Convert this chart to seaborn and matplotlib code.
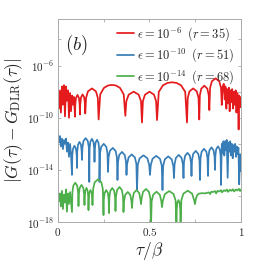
import matplotlib
matplotlib.use("Agg")
import matplotlib.pyplot as plt
import numpy as np
import pandas as pd
import seaborn as sns

# log10 |G - G_DLR|, tau in units of beta
red_tau = [
    0.000, 0.005, 0.011, 0.016, 0.022, 0.027, 0.033, 0.038, 0.044, 0.049,
    0.055, 0.060, 0.066, 0.071, 0.077, 0.082, 0.087,
    0.093, 0.0946, 0.0984, 0.1065, 0.1146, 0.1184,
    0.120, 0.1217, 0.1258, 0.1345, 0.1432, 0.1473,
    0.149, 0.1534, 0.1636, 0.1855, 0.2074, 0.2176,
    0.222, 0.2308, 0.2512, 0.2731, 0.295, 0.3169, 0.3388, 0.3592,
    0.368, 0.3735, 0.3862, 0.4135, 0.4408, 0.4535,
    0.459, 0.4639, 0.4754, 0.500, 0.5246, 0.5361,
    0.541, 0.5508, 0.5738, 0.5984, 0.623, 0.6476, 0.6722, 0.6952,
    0.705, 0.709, 0.7184, 0.7385, 0.7586, 0.768,
    0.772, 0.7753, 0.783, 0.7995, 0.816, 0.8237,
    0.827, 0.8311, 0.8406, 0.861, 0.8814, 0.8909,
    0.895, 0.900, 0.906, 0.911, 0.915, 0.920, 0.924, 0.929, 0.934, 0.938,
    0.943, 0.948, 0.952, 0.957, 0.962, 0.966, 0.971, 0.975, 0.980, 0.984,
    0.987, 0.990, 0.995, 1.000,
]
red_log = [
    -8.0, -9.3, -7.9, -9.6, -7.6, -9.0, -7.5, -9.9, -7.6, -8.7,
    -7.9, -10.0, -8.1, -9.5, -8.3, -9.0, -8.4,
    -9.92, -8.98, -8.48, -8.25, -8.48, -8.98,
    -9.75, -8.94, -8.44, -8.21, -8.44, -8.94,
    -9.67, -8.48, -7.98, -7.75, -7.98, -8.48,
    -10.13, -8.21, -7.71, -7.53, -7.48, -7.53, -7.71, -8.21,
    -9.85, -8.73, -8.23, -8.0, -8.23, -8.73,
    -10.36, -8.73, -8.23, -8.0, -8.23, -8.73,
    -10.18, -8.01, -7.51, -7.33, -7.28, -7.33, -7.51, -8.01,
    -10.36, -8.48, -7.98, -7.75, -7.98, -8.48,
    -10.13, -8.27, -7.77, -7.54, -7.77, -8.27,
    -9.41, -7.71, -7.21, -6.98, -7.21, -7.71,
    -9.02, -7.6, -7.4, -8.6, -7.6, -9.3, -7.8, -8.9, -7.7, -9.5,
    -7.9, -8.8, -7.8, -9.3, -8.0, -9.0, -7.9, -9.6, -8.1, -8.8,
    -10.9, -8.3, -9.2, -8.4,
]

blue_tau = [
    0.000, 0.005, 0.011, 0.016, 0.022, 0.027, 0.033, 0.038, 0.044, 0.049,
    0.055, 0.060, 0.066, 0.071,
    0.0765, 0.0781, 0.0820, 0.0902, 0.0983, 0.1022,
    0.1038, 0.1054, 0.1093, 0.1175, 0.1256, 0.1295,
    0.1311, 0.1335, 0.1391, 0.1511, 0.1630, 0.1686,
    0.1710, 0.1727, 0.1767, 0.1853, 0.1938, 0.1978,
    0.1995, 0.2011, 0.2050, 0.2132, 0.2213, 0.2252,
    0.2268, 0.2296, 0.2361, 0.2500, 0.2639, 0.2704,
    0.2732, 0.2763, 0.2836, 0.2992, 0.3147, 0.3220,
    0.3251, 0.3281, 0.3349, 0.3497, 0.3645, 0.3713,
    0.3743, 0.3777, 0.3858, 0.4030, 0.4202, 0.4283,
    0.4317, 0.4360, 0.4459, 0.4672, 0.4885, 0.4984,
    0.5027, 0.5068, 0.5164, 0.5369, 0.5573, 0.5669,
    0.5710, 0.5748, 0.5836, 0.6025, 0.6213, 0.6301,
    0.6339, 0.6370, 0.6443, 0.6599, 0.6754, 0.6827,
    0.6858, 0.6884, 0.6945, 0.7077, 0.7208, 0.7269,
    0.7295, 0.7323, 0.7388, 0.7528, 0.7667, 0.7732,
    0.7760, 0.7786, 0.7847, 0.7979, 0.8110, 0.8171,
    0.8197, 0.8220, 0.8273, 0.8388, 0.8503, 0.8556,
    0.8579, 0.8599, 0.8645, 0.8743, 0.8841, 0.8887,
    0.8907, 0.895, 0.900, 0.904, 0.909, 0.913, 0.918, 0.922, 0.927, 0.932,
    0.937, 0.941, 0.946, 0.950, 0.955, 0.959, 0.964, 0.968, 0.973, 0.977,
    0.982, 0.986, 0.990, 0.995, 1.000,
]
blue_log = [
    -11.3, -11.9, -11.4, -12.2, -11.6, -12.4, -11.7, -12.0, -11.6, -12.6,
    -11.9, -13.0, -12.0, -12.8,
    -14.38, -12.88, -12.38, -12.15, -12.38, -12.88,
    -13.85, -12.58, -12.08, -11.85, -12.08, -12.58,
    -13.23, -12.29, -11.79, -11.56, -11.79, -12.29,
    -14.92, -12.35, -11.85, -11.62, -11.85, -12.35,
    -13.38, -12.42, -11.92, -11.69, -11.92, -12.42,
    -14.92, -12.73, -12.23, -12.0, -12.23, -12.73,
    -14.15, -13.04, -12.54, -12.31, -12.54, -13.04,
    -14.77, -13.35, -12.85, -12.62, -12.85, -13.35,
    -14.38, -13.54, -13.04, -12.81, -13.04, -13.54,
    -15.54, -13.61, -13.11, -12.88, -13.11, -13.61,
    -14.38, -13.65, -13.15, -12.92, -13.15, -13.65,
    -15.54, -13.69, -13.19, -12.96, -13.19, -13.69,
    -14.62, -13.58, -13.08, -12.85, -13.08, -13.58,
    -14.62, -13.42, -12.92, -12.69, -12.92, -13.42,
    -14.46, -13.27, -12.77, -12.54, -12.77, -13.27,
    -14.77, -13.11, -12.61, -12.38, -12.61, -13.11,
    -14.46, -13.0, -12.5, -12.27, -12.5, -13.0,
    -14.0, -12.92, -12.42, -12.19, -12.42, -12.92,
    -15.15, -12.0, -12.7, -11.8, -12.9, -11.8, -12.5, -11.7, -14.6, -11.9,
    -12.6, -11.8, -12.9, -12.0, -13.1, -12.1, -12.6, -12.0, -13.0, -12.2,
    -12.8, -12.3, -15.1, -12.8, -14.1,
]

green_tau = [
    0.000, 0.005, 0.011, 0.016, 0.022, 0.027, 0.033, 0.038, 0.044, 0.049,
    0.055, 0.060, 0.066,
    0.0765, 0.0786, 0.0836, 0.0943, 0.1049, 0.1099,
    0.1120, 0.1140, 0.1186, 0.1284, 0.1382, 0.1428,
    0.1448, 0.1461, 0.1492, 0.1558, 0.1623, 0.1654,
    0.1667, 0.1680, 0.1711, 0.1776, 0.1841, 0.1872,
    0.1885, 0.1921, 0.2005, 0.2186, 0.2366, 0.2450,
    0.2486, 0.2504, 0.2546, 0.2637, 0.2727, 0.2769,
    0.2787, 0.2808, 0.2858, 0.2965, 0.3071, 0.3121,
    0.3142, 0.3168, 0.3229, 0.3361, 0.3492, 0.3553,
    0.3579, 0.3607, 0.3672, 0.3812, 0.3951, 0.4016,
    0.4044, 0.4074, 0.4142, 0.4290, 0.4438, 0.4506,
    0.4536, 0.4569, 0.4645, 0.4809, 0.4973, 0.5049,
    0.5082, 0.5118, 0.5202, 0.5383, 0.5563, 0.5647,
    0.5683, 0.5731, 0.5841, 0.6079, 0.6317, 0.6427,
    0.6475, 0.6488, 0.6519, 0.6585, 0.6650, 0.6681,
    0.6694, 0.6742, 0.6852, 0.7090, 0.7328, 0.7438,
    0.7486, 0.7540, 0.7600, 0.7700, 0.7870, 0.8030, 0.8140, 0.8250, 0.8310,
    0.8390, 0.8470, 0.8580, 0.8640, 0.8720, 0.8800, 0.8910, 0.8960, 0.9070,
    0.9150, 0.9230, 0.9290, 0.9400, 0.9480, 0.9560, 0.9620, 0.9730, 0.9800,
    0.9890, 0.9950, 1.0000,
]
green_log = [
    -15.7, -16.4, -15.8, -16.8, -15.6, -17.0, -15.9, -16.5, -15.5, -17.2,
    -15.8, -16.6, -15.7,
    -17.23, -15.71, -15.21, -14.98, -15.21, -15.71,
    -16.77, -15.88, -15.38, -15.15, -15.38, -15.88,
    -16.69, -16.11, -15.61, -15.38, -15.61, -16.11,
    -17.08, -16.27, -15.77, -15.54, -15.77, -16.27,
    -16.69, -15.45, -14.95, -14.72, -14.95, -15.45,
    -17.46, -16.27, -15.77, -15.54, -15.77, -16.27,
    -17.31, -16.11, -15.61, -15.38, -15.61, -16.11,
    -17.15, -16.04, -15.54, -15.31, -15.54, -16.04,
    -17.23, -16.42, -15.92, -15.69, -15.92, -16.42,
    -16.92, -16.27, -15.77, -15.54, -15.77, -16.27,
    -16.62, -16.19, -15.69, -15.46, -15.69, -16.19,
    -18.5, -16.40, -15.90, -15.67, -15.90, -16.40,
    -16.85, -16.35, -15.85, -15.62, -15.85, -16.35,
    -18.5, -17.04, -16.54, -16.31, -16.54, -17.04,
    -18.5, -16.32, -15.82, -15.59, -15.82, -16.32,
    -16.62, -16.2, -15.95, -15.82, -15.78, -15.80, -15.76, -15.72, -15.85,
    -15.66, -15.70, -15.62, -15.80, -15.60, -15.66, -15.55, -15.72, -15.56,
    -15.62, -15.50, -15.68, -15.52, -15.60, -15.48, -15.65, -15.50, -15.58,
    -15.45, -15.62, -15.50,
]

labels = [
    r"$\epsilon = 10^{-6}\;\;(r = 35)$",
    r"$\epsilon = 10^{-10}\;\;(r = 51)$",
    r"$\epsilon = 10^{-14}\;\;(r = 68)$",
]

frames = []
for lab, t, v in zip(labels, [red_tau, blue_tau, green_tau],
                     [red_log, blue_log, green_log]):
    frames.append(pd.DataFrame({"tau": t, "err": 10.0 ** np.array(v), "eps": lab}))
df = pd.concat(frames, ignore_index=True)

sns.set_style("ticks")
plt.rcParams["mathtext.fontset"] = "cm"
plt.rcParams["font.family"] = ["DejaVu Serif"]

fig = plt.figure(figsize=(2.66, 2.66), dpi=100)
ax = fig.add_axes([0.218, 0.165, 0.688, 0.765])

pal = sns.color_palette("Set1", 3)
sns.lineplot(data=df, x="tau", y="err", hue="eps", palette=pal,
             estimator=None, sort=False, linewidth=1.25, ax=ax)

ax.set_yscale("log")
ax.set_xlim(0, 1)
ax.set_ylim(1e-18, 10 ** -2.4)

ax.set_yticks([1e-18, 1e-16, 1e-14, 1e-12, 1e-10, 1e-8, 1e-6, 1e-4])
ax.set_yticklabels([r"$10^{-18}$", "", r"$10^{-14}$", "", r"$10^{-10}$", "",
                    r"$10^{-6}$", ""])
ax.yaxis.set_minor_locator(matplotlib.ticker.NullLocator())
ax.set_xticks([0, 0.25, 0.5, 0.75, 1])
ax.set_xticklabels([r"$0$", "", r"$0.5$", "", r"$1$"])
ax.tick_params(direction="in", length=2.5, width=0.5, color="#999999",
               labelsize=8, pad=3, top=True, right=True)

for s in ax.spines.values():
    s.set_color("#aaaaaa")
    s.set_linewidth(0.7)

ax.set_xlabel(r"$\tau/\beta$", fontsize=12.5, labelpad=1)
ax.set_ylabel(r"$|G(\tau) - G_{\mathrm{DLR}}(\tau)|$", fontsize=12.5, labelpad=1)

ax.text(0.04, 0.93, r"$(b)$", transform=ax.transAxes, fontsize=13.5,
        va="top", ha="left")

ax.legend(loc="upper right", frameon=False, fontsize=9, handlelength=1.3,
          handletextpad=0.3, labelspacing=0.3, borderaxespad=0.3,
          borderpad=0.2, title=None)

fig.savefig("out.png", dpi=100)
